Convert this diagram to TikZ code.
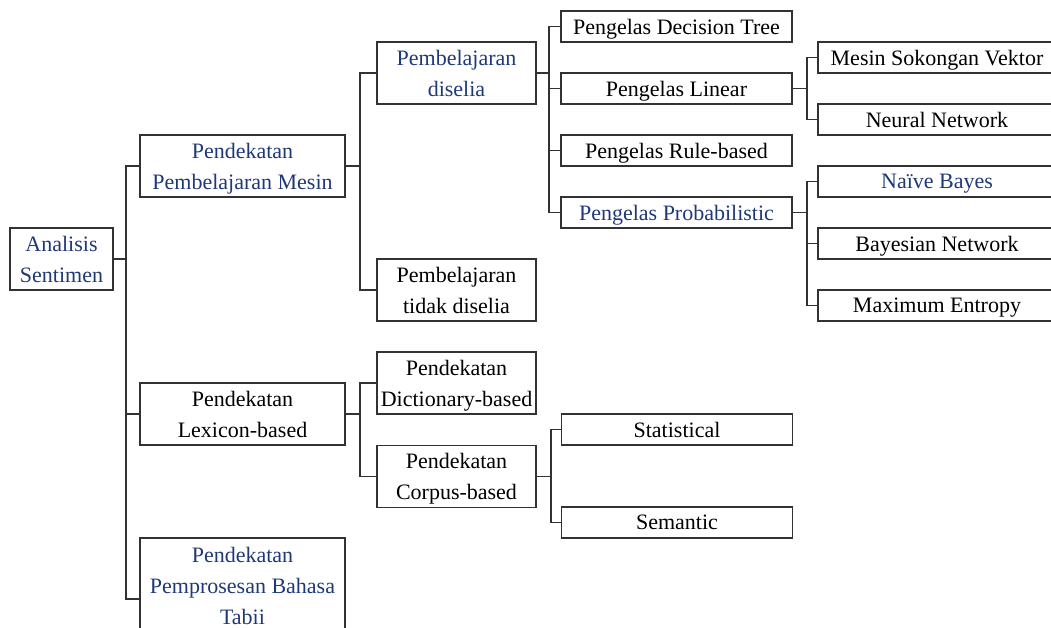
\documentclass[tikz,border=0pt]{standalone}
\usepackage{fontspec}
\setmainfont{Liberation Serif}
\definecolor{nblue}{RGB}{31,56,120}
\definecolor{lgray}{RGB}{50,50,50}
\begin{document}
\begin{tikzpicture}[x=1pt,y=-1pt,
  box/.style={draw=lgray, line width=1.3pt, align=center, inner sep=0pt,
    text depth=-1.5pt, font=\fontsize{22}{31}\selectfont},
  bl/.style={text=nblue},
  conn/.style={draw=lgray, line width=1.2pt}]
\useasboundingbox (0,0) rectangle (1051,628);
\clip (0,0) rectangle (1051,628);
% level 0
\node[box,bl, minimum width=103pt, minimum height=62pt] (root) at (61.5,259) {Analisis\\Sentimen};
% level 1
\node[box,bl, minimum width=205pt, minimum height=62pt] (ml) at (242.5,166) {Pendekatan\\Pembelajaran Mesin};
\node[box, minimum width=205pt, minimum height=62pt] (lex) at (242.5,414) {Pendekatan\\Lexicon-based};
\node[box,bl, minimum width=205pt, minimum height=96pt] (nlp) at (242.5,586) {Pendekatan\\Pemprosesan Bahasa\\Tabii};
% level 2
\node[box,bl, minimum width=159pt, minimum height=62pt] (sup) at (456.5,73) {Pembelajaran\\diselia};
\node[box, minimum width=159pt, minimum height=62pt] (unsup) at (456.5,290) {Pembelajaran\\tidak diselia};
\node[box, minimum width=159pt, minimum height=62pt] (dict) at (456.5,383) {Pendekatan\\Dictionary-based};
\node[box, minimum width=159pt, minimum height=62pt] (corp) at (456.5,476.5) {Pendekatan\\Corpus-based};
% level 3
\node[box, minimum width=231pt, minimum height=31pt] (dt) at (676.5,26.5) {Pengelas Decision Tree};
\node[box, minimum width=231pt, minimum height=31pt] (lin) at (676.5,88.5) {Pengelas Linear};
\node[box, minimum width=231pt, minimum height=31pt] (rule) at (676.5,150.5) {Pengelas Rule-based};
\node[box,bl, minimum width=231pt, minimum height=31pt] (prob) at (676.5,212.5) {Pengelas Probabilistic};
\node[box, minimum width=231pt, minimum height=31pt] (stat) at (677,429.5) {Statistical};
\node[box, minimum width=231pt, minimum height=31pt] (sem) at (677,522.5) {Semantic};
% level 4
\node[box, minimum width=238pt, minimum height=31pt] (svm) at (937,57.5) {Mesin Sokongan Vektor};
\node[box, minimum width=238pt, minimum height=31pt] (nn) at (937,119.5) {Neural Network};
\node[box,bl, minimum width=238pt, minimum height=31pt] (nb) at (937,181.5) {Naïve Bayes};
\node[box, minimum width=238pt, minimum height=31pt] (bn) at (937,243.5) {Bayesian Network};
\node[box, minimum width=238pt, minimum height=31pt] (me) at (937,305.5) {Maximum Entropy};
% bracket coordinates
\coordinate (t0) at (126,0);
\coordinate (t1) at (360,0);
\coordinate (t2) at (549,0);
\coordinate (t3) at (807,0);
\coordinate (t4) at (551,0);
\coordinate (nlpw) at (140,599);
% connectors
\draw[conn] (root.east) -- (root.east -| t0);
\draw[conn] (ml.west) -- (ml.west -| t0) -- (nlpw -| t0) -- (nlpw);
\draw[conn] (lex.west) -- (lex.west -| t0);
\draw[conn] (ml.east) -- (ml.east -| t1);
\draw[conn] (sup.west) -- (sup.west -| t1) -- (unsup.west -| t1) -- (unsup.west);
\draw[conn] (lex.east) -- (lex.east -| t1);
\draw[conn] (dict.west) -- (dict.west -| t1) -- (corp.west -| t1) -- (corp.west);
\draw[conn] (sup.east) -- (sup.east -| t2);
\draw[conn] (dt.west) -- (dt.west -| t2) -- (prob.west -| t2) -- (prob.west);
\draw[conn] (lin.west) -- (lin.west -| t2);
\draw[conn] (rule.west) -- (rule.west -| t2);
\draw[conn] (corp.east) -- (corp.east -| t4);
\draw[conn] (stat.west) -- (stat.west -| t4) -- (sem.west -| t4) -- (sem.west);
\draw[conn] (lin.east) -- (lin.east -| t3);
\draw[conn] (svm.west) -- (svm.west -| t3) -- (nn.west -| t3) -- (nn.west);
\draw[conn] (prob.east) -- (prob.east -| t3);
\draw[conn] (nb.west) -- (nb.west -| t3) -- (me.west -| t3) -- (me.west);
\draw[conn] (bn.west) -- (bn.west -| t3);
\end{tikzpicture}
\end{document}
